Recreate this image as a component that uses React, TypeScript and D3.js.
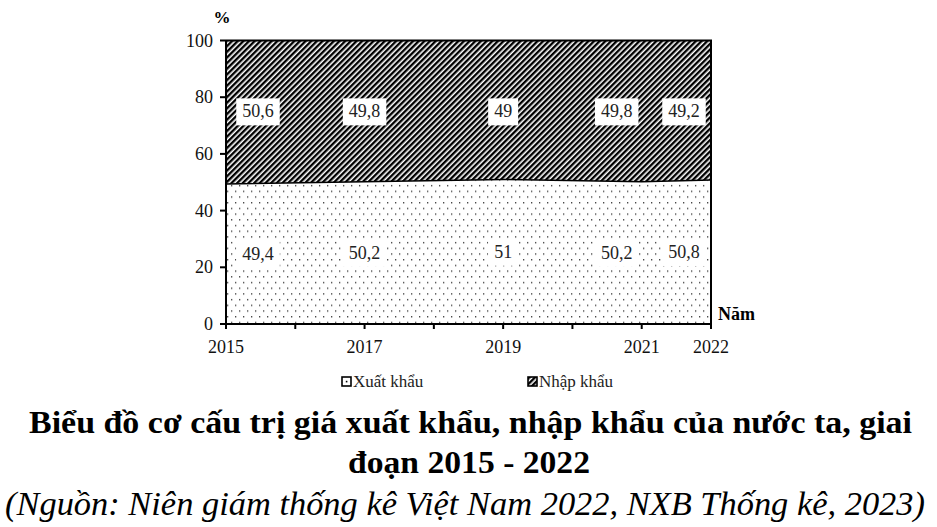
/**
 * Export / import structure chart, 2015 - 2022
 *
 * Stacked 100% area chart drawn with D3.js
 */

import React, { useEffect, useRef } from "react";
import * as d3 from "d3";

const years = [2015, 2017, 2019, 2021, 2022];
const exportShare = [49.4, 50.2, 51, 50.2, 50.8];
const importShare = [50.6, 49.8, 49, 49.8, 49.2];
const yTicks = [0, 20, 40, 60, 80, 100];
const xTickYears = [2015, 2016, 2017, 2018, 2019, 2020, 2021, 2022];
const xLabelYears = [2015, 2017, 2019, 2021, 2022];
const seriesNames = ["Xuất khẩu", "Nhập khẩu"];

const WIDTH = 937;
const HEIGHT = 527;
const SERIF = "Liberation Serif";

interface Row {
  year: number;
  exp: number;
  imp: number;
}

const App: React.FC = () => {
  const svgRef = useRef<SVGSVGElement>(null);

  useEffect(() => {
    if (!svgRef.current) return;
    d3.select(svgRef.current).selectAll("*").remove();

    const rows: Row[] = years.map((y, i) => ({ year: y, exp: exportShare[i], imp: importShare[i] }));

    const svg = d3
      .select(svgRef.current)
      .attr("width", WIDTH)
      .attr("height", HEIGHT)
      .style("font-family", SERIF);

    const left = 226;
    const right = 711;
    const top = 40.5;
    const bottom = 324;

    const xScale = d3.scaleLinear().domain([2015, 2022]).range([left, right]);
    const yScale = d3.scaleLinear().domain([0, 100]).range([bottom, top]);

    // Patterns
    const defs = svg.append("defs");
    const hatch = defs
      .append("pattern")
      .attr("id", "hatch")
      .attr("patternUnits", "userSpaceOnUse")
      .attr("width", 4)
      .attr("height", 4)
      .attr("patternTransform", "rotate(45)");
    hatch.append("rect").attr("width", 4).attr("height", 4).attr("fill", "#fff");
    hatch.append("rect").attr("width", 2.4).attr("height", 4).attr("fill", "#000");

    const dots = defs
      .append("pattern")
      .attr("id", "dots")
      .attr("patternUnits", "userSpaceOnUse")
      .attr("x", left)
      .attr("y", top)
      .attr("width", 8)
      .attr("height", 11.4);
    dots.append("rect").attr("width", 8).attr("height", 11.4).attr("fill", "#fff");
    dots.append("rect").attr("x", 1).attr("y", 2).attr("width", 1.3).attr("height", 1.3).attr("fill", "#333");
    dots.append("rect").attr("x", 5).attr("y", 7.7).attr("width", 1.3).attr("height", 1.3).attr("fill", "#333");

    // Areas
    const impArea = d3
      .area<Row>()
      .x((d) => xScale(d.year))
      .y0((d) => yScale(d.exp))
      .y1(() => yScale(100));
    const expArea = d3
      .area<Row>()
      .x((d) => xScale(d.year))
      .y0(() => yScale(0))
      .y1((d) => yScale(d.exp));

    svg.append("path").datum(rows).attr("d", impArea).attr("fill", "url(#hatch)");
    svg.append("path").datum(rows).attr("d", expArea).attr("fill", "url(#dots)");

    // Boundary line
    const boundary = d3
      .line<Row>()
      .x((d) => xScale(d.year))
      .y((d) => yScale(d.exp));
    svg
      .append("path")
      .datum(rows)
      .attr("d", boundary)
      .attr("fill", "none")
      .attr("stroke", "#000")
      .attr("stroke-width", 1.5);

    // Frame (top and right)
    svg
      .append("path")
      .attr("d", `M${xScale(2015)},${yScale(100)}H${xScale(2022)}V${yScale(0)}`)
      .attr("fill", "none")
      .attr("stroke", "#000")
      .attr("stroke-width", 2);

    // Axes
    const axisColor = "#000";
    const yAxis = svg.append("g");
    yAxis
      .append("line")
      .attr("x1", left)
      .attr("x2", left)
      .attr("y1", yScale(100))
      .attr("y2", yScale(0))
      .attr("stroke", axisColor)
      .attr("stroke-width", 2);
    yTicks.forEach((t) => {
      yAxis
        .append("line")
        .attr("x1", left - 6)
        .attr("x2", left)
        .attr("y1", yScale(t))
        .attr("y2", yScale(t))
        .attr("stroke", axisColor)
        .attr("stroke-width", 2);
      yAxis
        .append("text")
        .attr("x", left - 13)
        .attr("y", yScale(t) + 6)
        .attr("text-anchor", "end")
        .attr("font-size", 18)
        .attr("fill", "#111")
        .text(t);
    });

    const xAxis = svg.append("g");
    xAxis
      .append("line")
      .attr("x1", left - 1)
      .attr("x2", right + 1)
      .attr("y1", bottom)
      .attr("y2", bottom)
      .attr("stroke", axisColor)
      .attr("stroke-width", 2);
    xTickYears.forEach((yr) => {
      xAxis
        .append("line")
        .attr("x1", xScale(yr))
        .attr("x2", xScale(yr))
        .attr("y1", bottom)
        .attr("y2", bottom + 5)
        .attr("stroke", axisColor)
        .attr("stroke-width", 2);
    });
    xLabelYears.forEach((yr) => {
      xAxis
        .append("text")
        .attr("x", xScale(yr))
        .attr("y", bottom + 29)
        .attr("text-anchor", "middle")
        .attr("font-size", 18)
        .attr("fill", "#111")
        .text(yr);
    });

    svg
      .append("text")
      .attr("x", 222)
      .attr("y", 23)
      .attr("text-anchor", "middle")
      .attr("font-weight", "bold")
      .attr("font-size", 17)
      .text("%");
    svg
      .append("text")
      .attr("x", 718)
      .attr("y", 320)
      .attr("font-weight", "bold")
      .attr("font-size", 18)
      .text("Năm");

    // Value labels in white boxes
    const labelShift = [32, 0, 0, -25, -27];
    const drawLabel = (cx: number, cy: number, txt: string) => {
      const g = svg.append("g");
      const t = g
        .append("text")
        .attr("x", cx)
        .attr("y", cy + 6)
        .attr("text-anchor", "middle")
        .attr("font-size", 18)
        .attr("fill", "#222")
        .text(txt);
      const bb = (t.node() as SVGTextElement).getBBox();
      g.insert("rect", "text")
        .attr("x", bb.x - 6)
        .attr("y", cy - 13)
        .attr("width", bb.width + 12)
        .attr("height", 27)
        .attr("fill", "#fff");
    };
    const fmt = (v: number) => String(v).replace(".", ",");
    rows.forEach((d, i) => {
      const cx = xScale(d.year) + labelShift[i];
      drawLabel(cx, yScale(75), fmt(d.imp));
      drawLabel(cx, yScale(d.exp / 2), fmt(d.exp));
    });

    // Legend
    const legend = svg.append("g").attr("font-size", 17);
    const legendX = [341, 527];
    seriesNames.forEach((name, i) => {
      legend
        .append("rect")
        .attr("x", legendX[i] + 1)
        .attr("y", 377)
        .attr("width", 9)
        .attr("height", 9)
        .attr("fill", i === 0 ? "#fff" : "url(#hatch)")
        .attr("stroke", "#000")
        .attr("stroke-width", 1.6);
      if (i === 0) {
        legend
          .append("rect")
          .attr("x", legendX[i] + 4.8)
          .attr("y", 380.8)
          .attr("width", 1.6)
          .attr("height", 1.6)
          .attr("fill", "#000");
      }
      legend
        .append("text")
        .attr("x", legendX[i] + 12)
        .attr("y", 387)
        .attr("fill", "#222")
        .text(name);
    });

    // Titles
    svg
      .append("text")
      .attr("x", 29)
      .attr("y", 433)
      .attr("font-weight", "bold")
      .attr("font-size", 32)
      .attr("textLength", 883)
      .attr("lengthAdjust", "spacingAndGlyphs")
      .text("Biểu đồ cơ cấu trị giá xuất khẩu, nhập khẩu của nước ta, giai");
    svg
      .append("text")
      .attr("x", 348)
      .attr("y", 473)
      .attr("font-weight", "bold")
      .attr("font-size", 32)
      .attr("textLength", 242)
      .attr("lengthAdjust", "spacingAndGlyphs")
      .text("đoạn 2015 - 2022");
    svg
      .append("text")
      .attr("x", 5)
      .attr("y", 515)
      .attr("font-style", "italic")
      .attr("font-size", 33)
      .attr("textLength", 920)
      .attr("lengthAdjust", "spacingAndGlyphs")
      .text("(Nguồn: Niên giám thống kê Việt Nam 2022, NXB Thống kê, 2023)");
  }, []);

  return (
    <svg
      ref={svgRef}
      style={{ position: "absolute", left: 0, top: 0, background: "#fff" }}
    />
  );
};

export default App;
